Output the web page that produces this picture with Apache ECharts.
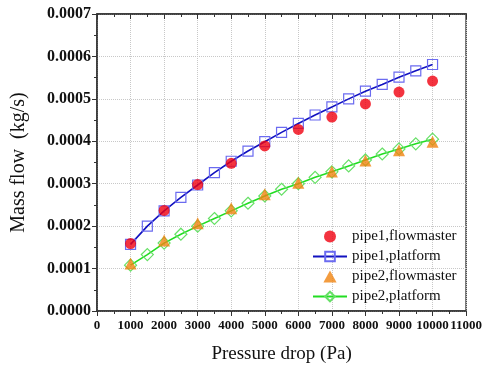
<!DOCTYPE html>
<html>
<head>
<meta charset="utf-8">
<script src="https://cdn.jsdelivr.net/npm/echarts@6/dist/echarts.min.js"></script>
<style>
  html, body { margin: 0; padding: 0; background: #fff; }
  #chart { width: 485px; height: 369px; }
</style>
</head>
<body>
<div id="chart"></div>
<script>
// Werte
const flowmasterX = [1000, 2000, 3000, 4000, 5000, 6000, 7000, 8000, 9000, 10000];
const pipe1Flowmaster = [0.000159, 0.000237, 0.000298, 0.000348, 0.000389, 0.000428, 0.000457, 0.000488, 0.000516, 0.000542];
const pipe2Flowmaster = [0.000112, 0.000166, 0.000207, 0.000242, 0.000275, 0.000302, 0.000329, 0.000355, 0.000379, 0.000399];

const platformX = [1000, 1500, 2000, 2500, 3000, 3500, 4000, 4500, 5000, 5500,
  6000, 6500, 7000, 7500, 8000, 8500, 9000, 9500, 10000];
const pipe1Platform = [0.000157, 0.000200, 0.000236, 0.000268, 0.000297, 0.000326, 0.000353, 0.000377, 0.000399, 0.000421,
  0.000442, 0.000462, 0.000481, 0.000500, 0.000518, 0.000534, 0.000551, 0.000566, 0.000581];
const pipe2Platform = [0.000108, 0.000133, 0.000160, 0.000181, 0.000200, 0.000218, 0.000236, 0.000254, 0.000271, 0.000287,
  0.000300, 0.000315, 0.000328, 0.000342, 0.000356, 0.000370, 0.000382, 0.000394, 0.000405];

const seriesNames = ['pipe1,flowmaster', 'pipe1,platform', 'pipe2,flowmaster', 'pipe2,platform'];

const pairs = (xs, ys) => xs.map((x, i) => [x, ys[i]]);
const serif = '"Liberation Serif", "DejaVu Serif", serif';
const axisColor = '#333';
// Dreieck als Pfad, damit es in der Legende nicht verzerrt wird
const trianglePath = 'path://M0,10 L5.5,0 L11,10 Z';

const chart = echarts.init(document.getElementById('chart'));

const option = {
  animation: false,
  backgroundColor: '#fff',
  grid: { left: 97, top: 14, right: 17, bottom: 58, show: true, borderColor: axisColor, borderWidth: 1.5 },
  legend: {
    orient: 'vertical',
    left: 307,
    top: 224,
    itemWidth: 34,
    itemHeight: 12,
    itemGap: 5,
    symbolKeepAspect: true,
    textStyle: { fontFamily: serif, fontSize: 15, color: '#111' },
    data: [
      { name: seriesNames[0] },
      { name: seriesNames[1] },
      { name: seriesNames[2], icon: trianglePath },
      { name: seriesNames[3] }
    ]
  },
  xAxis: [
    {
      type: 'value',
      min: 0,
      max: 11000,
      interval: 1000,
      name: 'Pressure drop (Pa)',
      nameLocation: 'middle',
      nameGap: 34,
      nameTextStyle: { fontFamily: serif, fontSize: 19, color: '#111' },
      axisLine: { show: true, lineStyle: { color: axisColor, width: 1.5 } },
      axisTick: { show: true, inside: false, length: 5, lineStyle: { color: axisColor } },
      minorTick: { show: true, splitNumber: 2, length: 3, lineStyle: { color: axisColor } },
      axisLabel: {
        fontFamily: serif, fontSize: 13, fontWeight: 'bold', color: '#111', margin: 8,
        formatter: (v) => String(v)
      },
      splitLine: { show: true, lineStyle: { type: 'dotted', color: '#c8c8c8' } }
    },
    {
      type: 'value',
      position: 'top',
      min: 0,
      max: 11000,
      interval: 1000,
      axisLine: { show: true, lineStyle: { color: axisColor, width: 1.5 } },
      axisTick: { show: true, inside: true, length: 5, lineStyle: { color: axisColor } },
      minorTick: { show: true, splitNumber: 2, length: 3, lineStyle: { color: axisColor } },
      axisLabel: { show: false },
      splitLine: { show: false }
    }
  ],
  yAxis: {
    type: 'value',
    min: 0,
    max: 0.0007,
    interval: 0.0001,
    name: 'Mass flow  (kg/s)',
    nameLocation: 'middle',
    nameGap: 68,
    nameTextStyle: { fontFamily: serif, fontSize: 20, color: '#111' },
    axisLine: { show: true, lineStyle: { color: axisColor, width: 1.5 } },
    axisTick: { show: true, inside: false, length: 5, lineStyle: { color: axisColor } },
    minorTick: { show: true, splitNumber: 2, length: 3, lineStyle: { color: axisColor } },
    axisLabel: {
      fontFamily: serif, fontSize: 16, fontWeight: 'bold', color: '#111', margin: 6,
      formatter: (v) => v.toFixed(4)
    },
    splitLine: { show: true, lineStyle: { type: 'dotted', color: '#c8c8c8' } }
  },
  series: [
    {
      name: seriesNames[0],
      type: 'scatter',
      symbol: 'circle',
      symbolSize: 11,
      itemStyle: { color: '#f0000f' },
      z: 4,
      data: pairs(flowmasterX, pipe1Flowmaster)
    },
    {
      name: seriesNames[1],
      type: 'line',
      symbol: 'rect',
      symbolSize: 10,
      showAllSymbol: true,
      itemStyle: { color: 'rgba(255,255,255,0)', borderColor: '#6b6bf0', borderWidth: 1.2 },
      lineStyle: { color: '#1212c0', width: 1.6 },
      z: 3,
      data: pairs(platformX, pipe1Platform)
    },
    {
      name: seriesNames[2],
      type: 'scatter',
      symbol: 'triangle',
      symbolSize: 12,
      itemStyle: { color: '#f0830f' },
      z: 4,
      data: pairs(flowmasterX, pipe2Flowmaster)
    },
    {
      name: seriesNames[3],
      type: 'line',
      symbol: 'diamond',
      symbolSize: 12,
      showAllSymbol: true,
      itemStyle: { color: 'rgba(255,255,255,0)', borderColor: '#66e066', borderWidth: 1.2 },
      lineStyle: { color: '#22dd22', width: 1.6 },
      z: 3,
      data: pairs(platformX, pipe2Platform)
    }
  ]
};

chart.setOption(option);
</script>
</body>
</html>
